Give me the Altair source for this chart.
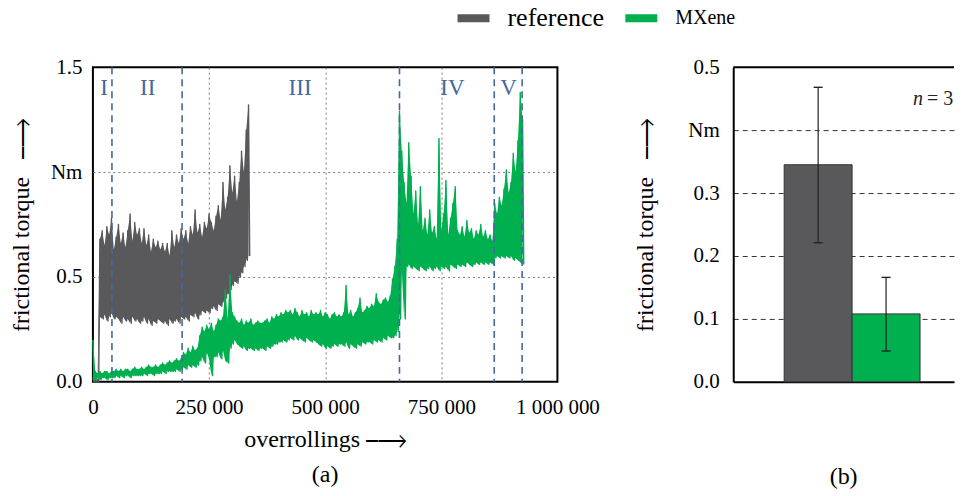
import altair as alt
import pandas as pd

FONT = "Liberation Serif"
SERIES = ["reference", "MXene"]
COLORS = ["#59595b", "#00b04f"]
PHASE_COLOR = "#44699b"
STEP = 5000  # overrollings between successive readings

# ---- panel (a): frictional torque (Nm x 100), upper / lower envelope per reading ----
ref_hi = [2, 2, 1,
          68, 72, 65, 74, 70, 78, 63, 69,
          75, 66, 71, 64, 72, 80, 67, 76, 70, 73,
          66, 73, 65, 70, 62, 68, 64, 67, 63, 66,
          62, 66, 60, 72, 64, 70, 66, 73,
          68, 72, 66, 74, 70, 82, 71, 75, 69, 76,
          73, 80, 76, 72, 79, 84, 77, 95, 82, 88,
          103, 90, 98, 86, 95, 110, 100, 120, 132]
ref_lo = [0, 0, 0,
          31, 30, 32, 29, 31, 33, 30, 31,
          30, 28, 31, 29, 30, 28, 31, 29, 30, 28,
          29, 31, 28, 30, 27, 29, 28, 30, 29, 28,
          29, 27, 30, 28, 29, 30, 28, 31,
          30, 31, 29, 32, 31, 33, 30, 32, 34, 33,
          34, 33, 35, 36, 34, 37, 36, 38, 40, 42,
          44, 46, 48, 47, 50, 52, 55, 58, 60]

mx_hi = [20,
         5, 4, 5, 4, 5, 5, 4, 5,
         5, 6, 5, 6, 5, 6, 6, 5, 6, 7, 6, 6,
         7, 6, 7, 8, 7, 7, 8, 7, 8, 9,
         8, 9, 10, 9, 10, 11, 10, 11,
         14, 13, 16, 14, 17, 15, 16,
         22, 26, 24, 27, 25, 28, 24,
         27, 30, 29, 31, 44, 30, 51, 33,
         31, 29, 28, 30, 27, 29, 28, 30, 27, 28, 29, 28,
         28, 29, 30, 28, 31, 30, 32, 31, 33, 32, 34, 33,
         34, 32, 35, 33, 31, 34, 32, 33, 31, 34, 32, 33,
         32, 34, 31, 33, 32, 30, 32, 33, 31, 32,
         31, 33, 46, 32, 34, 31, 33, 35, 40, 33, 34, 36,
         35, 37, 36, 42, 38, 37, 39, 40, 38, 41, 49, 55, 68,
         129, 110, 95, 85, 114, 98, 80, 91, 75, 93, 72, 78, 70, 82, 71, 74, 68, 116,
         72, 80, 96, 70, 78, 85, 93, 72, 70, 74, 69, 77, 71, 73, 68, 72, 70, 75, 69, 72, 68, 70, 67,
         85, 80, 88, 84, 92, 101, 90, 95, 109, 100, 115, 138, 125]
mx_lo = [1,
         1, 2, 1, 2, 2, 1, 2, 2,
         2, 3, 2, 3, 2, 3, 3, 2, 3, 3, 3, 3,
         3, 4, 3, 4, 4, 3, 4, 4, 4, 5,
         4, 5, 5, 5, 5, 6, 5, 6,
         7, 6, 8, 7, 8, 7, 8,
         10, 12, 9, 14, 11, 3, 12,
         12, 14, 11, 15, 10, 9, 16, 18,
         20, 18, 17, 16, 17, 15, 16, 16, 15, 16, 15, 16,
         16, 15, 17, 16, 17, 18, 18, 19, 19, 20, 19, 20,
         21, 20, 22, 20, 21, 20, 19, 21, 20, 19, 20, 19,
         18, 17, 18, 16, 17, 16, 17, 18, 17, 18,
         18, 17, 19, 16, 18, 17, 16, 18, 17, 19, 18, 19,
         19, 18, 20, 19, 20, 19, 21, 20, 22, 21, 21, 22, 24,
         30, 53, 30, 55, 56, 54, 55, 54, 53, 55, 54, 53, 54, 55, 53, 54, 55, 53,
         55, 54, 55, 53, 56, 55, 54, 56, 55, 56, 55, 57, 56, 55, 56, 57, 56, 57, 56, 57, 56, 57, 56,
         59, 60, 59, 60, 59, 60, 59, 60, 58, 59, 58, 57, 56]

phase_x = [41000, 192000, 660000, 864000, 924000]
roman = ["I", "II", "III", "IV", "V"]
roman_x = [24000, 118000, 446000, 774000, 895000]
roman_y = [1.40, 1.40, 1.40, 1.40, 1.40]

x_ticks = [0, 250000, 500000, 750000, 1000000]
y_ticks_a = [0, 0.5, 1.0, 1.5]

# ---- panel (b): mean frictional torque with error bars ----
bar_mean = [0.345, 0.108]
err_lo = [0.221, 0.049]
err_hi = [0.468, 0.166]
y_ticks_b = [0, 0.1, 0.2, 0.3, 0.4, 0.5]


def zigzag(name, hi, lo):
    rows = []
    for i, (h, l) in enumerate(zip(hi, lo)):
        rows.append({"x": i * STEP, "y": h / 100, "series": name})
        rows.append({"x": i * STEP + STEP / 2, "y": l / 100, "series": name})
    return pd.DataFrame(rows)


def band(name, hi, lo):
    return pd.DataFrame({
        "x": [i * STEP for i in range(len(hi))],
        "hi": [h / 100 for h in hi],
        "lo": [l / 100 for l in lo],
        "series": name,
    })


df_ref = zigzag("reference", ref_hi, ref_lo)
df_mx = zigzag("MXene", mx_hi, mx_lo)
band_ref = band("reference", ref_hi, ref_lo)
band_mx = band("MXene", mx_hi, mx_lo)
df_phase = pd.DataFrame({"x": phase_x})
df_roman = pd.DataFrame({"x": roman_x, "y": roman_y, "t": roman})
df_bar = pd.DataFrame({"series": SERIES, "torque": bar_mean, "lo": err_lo, "hi": err_hi})

cscale = alt.Scale(domain=SERIES, range=COLORS)

lab = dict(labelFont=FONT, labelFontSize=21, labelColor="black",
           titleFont=FONT, titleFontSize=24, titleFontWeight="normal", titleColor="black")

ARROW = "\u23af\u27f6"

xs = alt.Scale(domain=[0, 1000000], nice=False, zero=False)
ys = alt.Scale(domain=[0, 1.5], nice=False)

x_axis = alt.Axis(
    values=x_ticks, title="overrollings\u00a0" + ARROW,
    labelExpr="replace(replace(format(datum.value, ','), ',', ' '), ',', ' ')",
    labelFlush=False, labelOverlap=False, ticks=False, tickSize=0, domain=False,
    grid=True, gridDash=[2, 3], gridColor="#7a7a7a", gridWidth=1,
    gridOpacity={"condition": {"test": "datum.value <= 0 || datum.value >= 1000000", "value": 0}, "value": 1},
    labelPadding=15, titlePadding=10, **lab)
y_axis = alt.Axis(
    values=y_ticks_a, title="frictional torque\u00a0\u00a0\u00a0" + ARROW,
    labelExpr="datum.value == 1 ? 'Nm' : format(datum.value, '.1f')",
    labelOverlap=False, ticks=False, tickSize=0, domain=False,
    grid=True, gridDash=[2, 3], gridColor="#7a7a7a", gridWidth=1,
    gridOpacity={"condition": {"test": "datum.value <= 0 || datum.value >= 1.5", "value": 0}, "value": 1},
    labelPadding=11, titlePadding=17, **lab)

legend = alt.Legend(
    title=None, orient="none", legendX=361, legendY=-69, direction="horizontal",
    symbolType="stroke", symbolSize=1024, symbolStrokeWidth=8,
    labelFont=FONT, labelFontSize=alt.ExprRef("datum.label == 'reference' ? 26 : 20"),
    labelColor="black", labelOffset=14, columnPadding=5, labelLimit=200,
)

ref_area = alt.Chart(band_ref).mark_area(opacity=1, interpolate="linear").encode(
    x=alt.X("x:Q", scale=xs),
    y=alt.Y("hi:Q", scale=ys),
    y2="lo:Q",
    fill=alt.Fill("series:N", scale=cscale, legend=None),
)
ref_line = alt.Chart(df_ref).mark_line(strokeWidth=1.4, strokeJoin="round").encode(
    x=alt.X("x:Q", scale=xs, axis=x_axis),
    y=alt.Y("y:Q", scale=ys, axis=y_axis),
    color=alt.Color("series:N", scale=cscale, legend=legend),
)
mx_area = alt.Chart(band_mx).mark_area(opacity=1, interpolate="linear").encode(
    x=alt.X("x:Q", scale=xs),
    y=alt.Y("hi:Q", scale=ys),
    y2="lo:Q",
    fill=alt.Fill("series:N", scale=cscale, legend=None),
)
mx_line = alt.Chart(df_mx).mark_line(strokeWidth=1.4, strokeJoin="round").encode(
    x=alt.X("x:Q", scale=xs),
    y=alt.Y("y:Q", scale=ys),
    color=alt.Color("series:N", scale=cscale),
)
phase_rules = alt.Chart(df_phase).mark_rule(color=PHASE_COLOR, strokeDash=[7, 5], strokeWidth=1.6).encode(
    x=alt.X("x:Q", scale=xs),
)
roman_text = alt.Chart(df_roman).mark_text(font=FONT, fontSize=23, color=PHASE_COLOR, baseline="middle").encode(
    x=alt.X("x:Q", scale=xs),
    y=alt.Y("y:Q", scale=ys),
    text="t:N",
)

left = alt.layer(ref_line, ref_area, mx_area, mx_line, phase_rules, roman_text).properties(
    width=465, height=315,
    view=alt.ViewBackground(stroke="black", strokeWidth=2),
    title=alt.TitleParams("(a)", orient="bottom", font=FONT, fontSize=24, fontWeight="normal", offset=11, color="black"),
)

# ---- right panel ----
xb_scale = alt.Scale(domain=SERIES, paddingInner=0, paddingOuter=0.625, align=0.6)
ysb = alt.Scale(domain=[0, 0.5], nice=False)

xb_axis = alt.Axis(labels=False, ticks=False, title=None, domain=True, domainColor="black",
                   domainWidth=2, grid=False)
yb_axis = alt.Axis(
    values=y_ticks_b, title="frictional torque\u00a0\u00a0\u00a0" + ARROW,
    labelExpr="abs(datum.value - 0.4) < 0.000001 ? 'Nm' : format(datum.value, '.1f')",
    labelOverlap=False, ticks=False, tickSize=0, domain=True, domainColor="black", domainWidth=2,
    grid=True, gridDash=[5, 4], gridColor="#333333", gridWidth=1,
    gridOpacity={"condition": {"test": "datum.value <= 0 || datum.value >= 0.5", "value": 0}, "value": 1},
    labelPadding=14, titlePadding=30, **lab)

top_border = alt.Chart(pd.DataFrame({"v": [0.5]})).mark_rule(color="black", strokeWidth=2).encode(
    y=alt.Y("v:Q", scale=ysb),
    x=alt.value(0),
    x2=alt.value("width"),
)
bars = alt.Chart(df_bar).mark_bar(stroke="#333333", strokeWidth=1, opacity=1).encode(
    x=alt.X("series:N", scale=xb_scale, axis=xb_axis, sort=SERIES),
    y=alt.Y("torque:Q", scale=ysb, axis=yb_axis),
    color=alt.Color("series:N", scale=cscale),
)
err_rule = alt.Chart(df_bar).mark_rule(color="#222222", strokeWidth=1.2).encode(
    x=alt.X("series:N", scale=xb_scale, sort=SERIES),
    y=alt.Y("lo:Q", scale=ysb),
    y2="hi:Q",
)
cap_lo = alt.Chart(df_bar).mark_tick(color="#222222", size=9, thickness=1.4, opacity=1).encode(
    x=alt.X("series:N", scale=xb_scale, sort=SERIES),
    y=alt.Y("lo:Q", scale=ysb),
)
cap_hi = alt.Chart(df_bar).mark_tick(color="#222222", size=9, thickness=1.4, opacity=1).encode(
    x=alt.X("series:N", scale=xb_scale, sort=SERIES),
    y=alt.Y("hi:Q", scale=ysb),
)
n_df = pd.DataFrame({"series": ["MXene"], "y": [0.45], "t": ["n"], "u": ["= 3"]})
n_text = alt.Chart(n_df).mark_text(font=FONT, fontSize=20, fontStyle="italic", align="left",
                                   baseline="middle", dx=27, color="#222222").encode(
    x=alt.X("series:N", scale=xb_scale, sort=SERIES),
    y=alt.Y("y:Q", scale=ysb),
    text="t:N",
)
eq_text = alt.Chart(n_df).mark_text(font=FONT, fontSize=20, align="left",
                                    baseline="middle", dx=41, color="#222222").encode(
    x=alt.X("series:N", scale=xb_scale, sort=SERIES),
    y=alt.Y("y:Q", scale=ysb),
    text="u:N",
)

right = alt.layer(top_border, bars, err_rule, cap_lo, cap_hi, n_text, eq_text).properties(
    width=221, height=315,
    view=alt.ViewBackground(stroke="transparent", strokeWidth=0),
    title=alt.TitleParams("(b)", orient="bottom", font=FONT, fontSize=24, fontWeight="normal", offset=73, color="black"),
)

chart = alt.hconcat(left, right, spacing=33).resolve_scale(color="shared").properties(
    padding={"left": 0, "top": -10, "right": 0, "bottom": 0}
).configure(font=FONT).configure_legend(labelFont=FONT)

chart.save("out.html", embed_options={"renderer": "svg", "actions": False})
